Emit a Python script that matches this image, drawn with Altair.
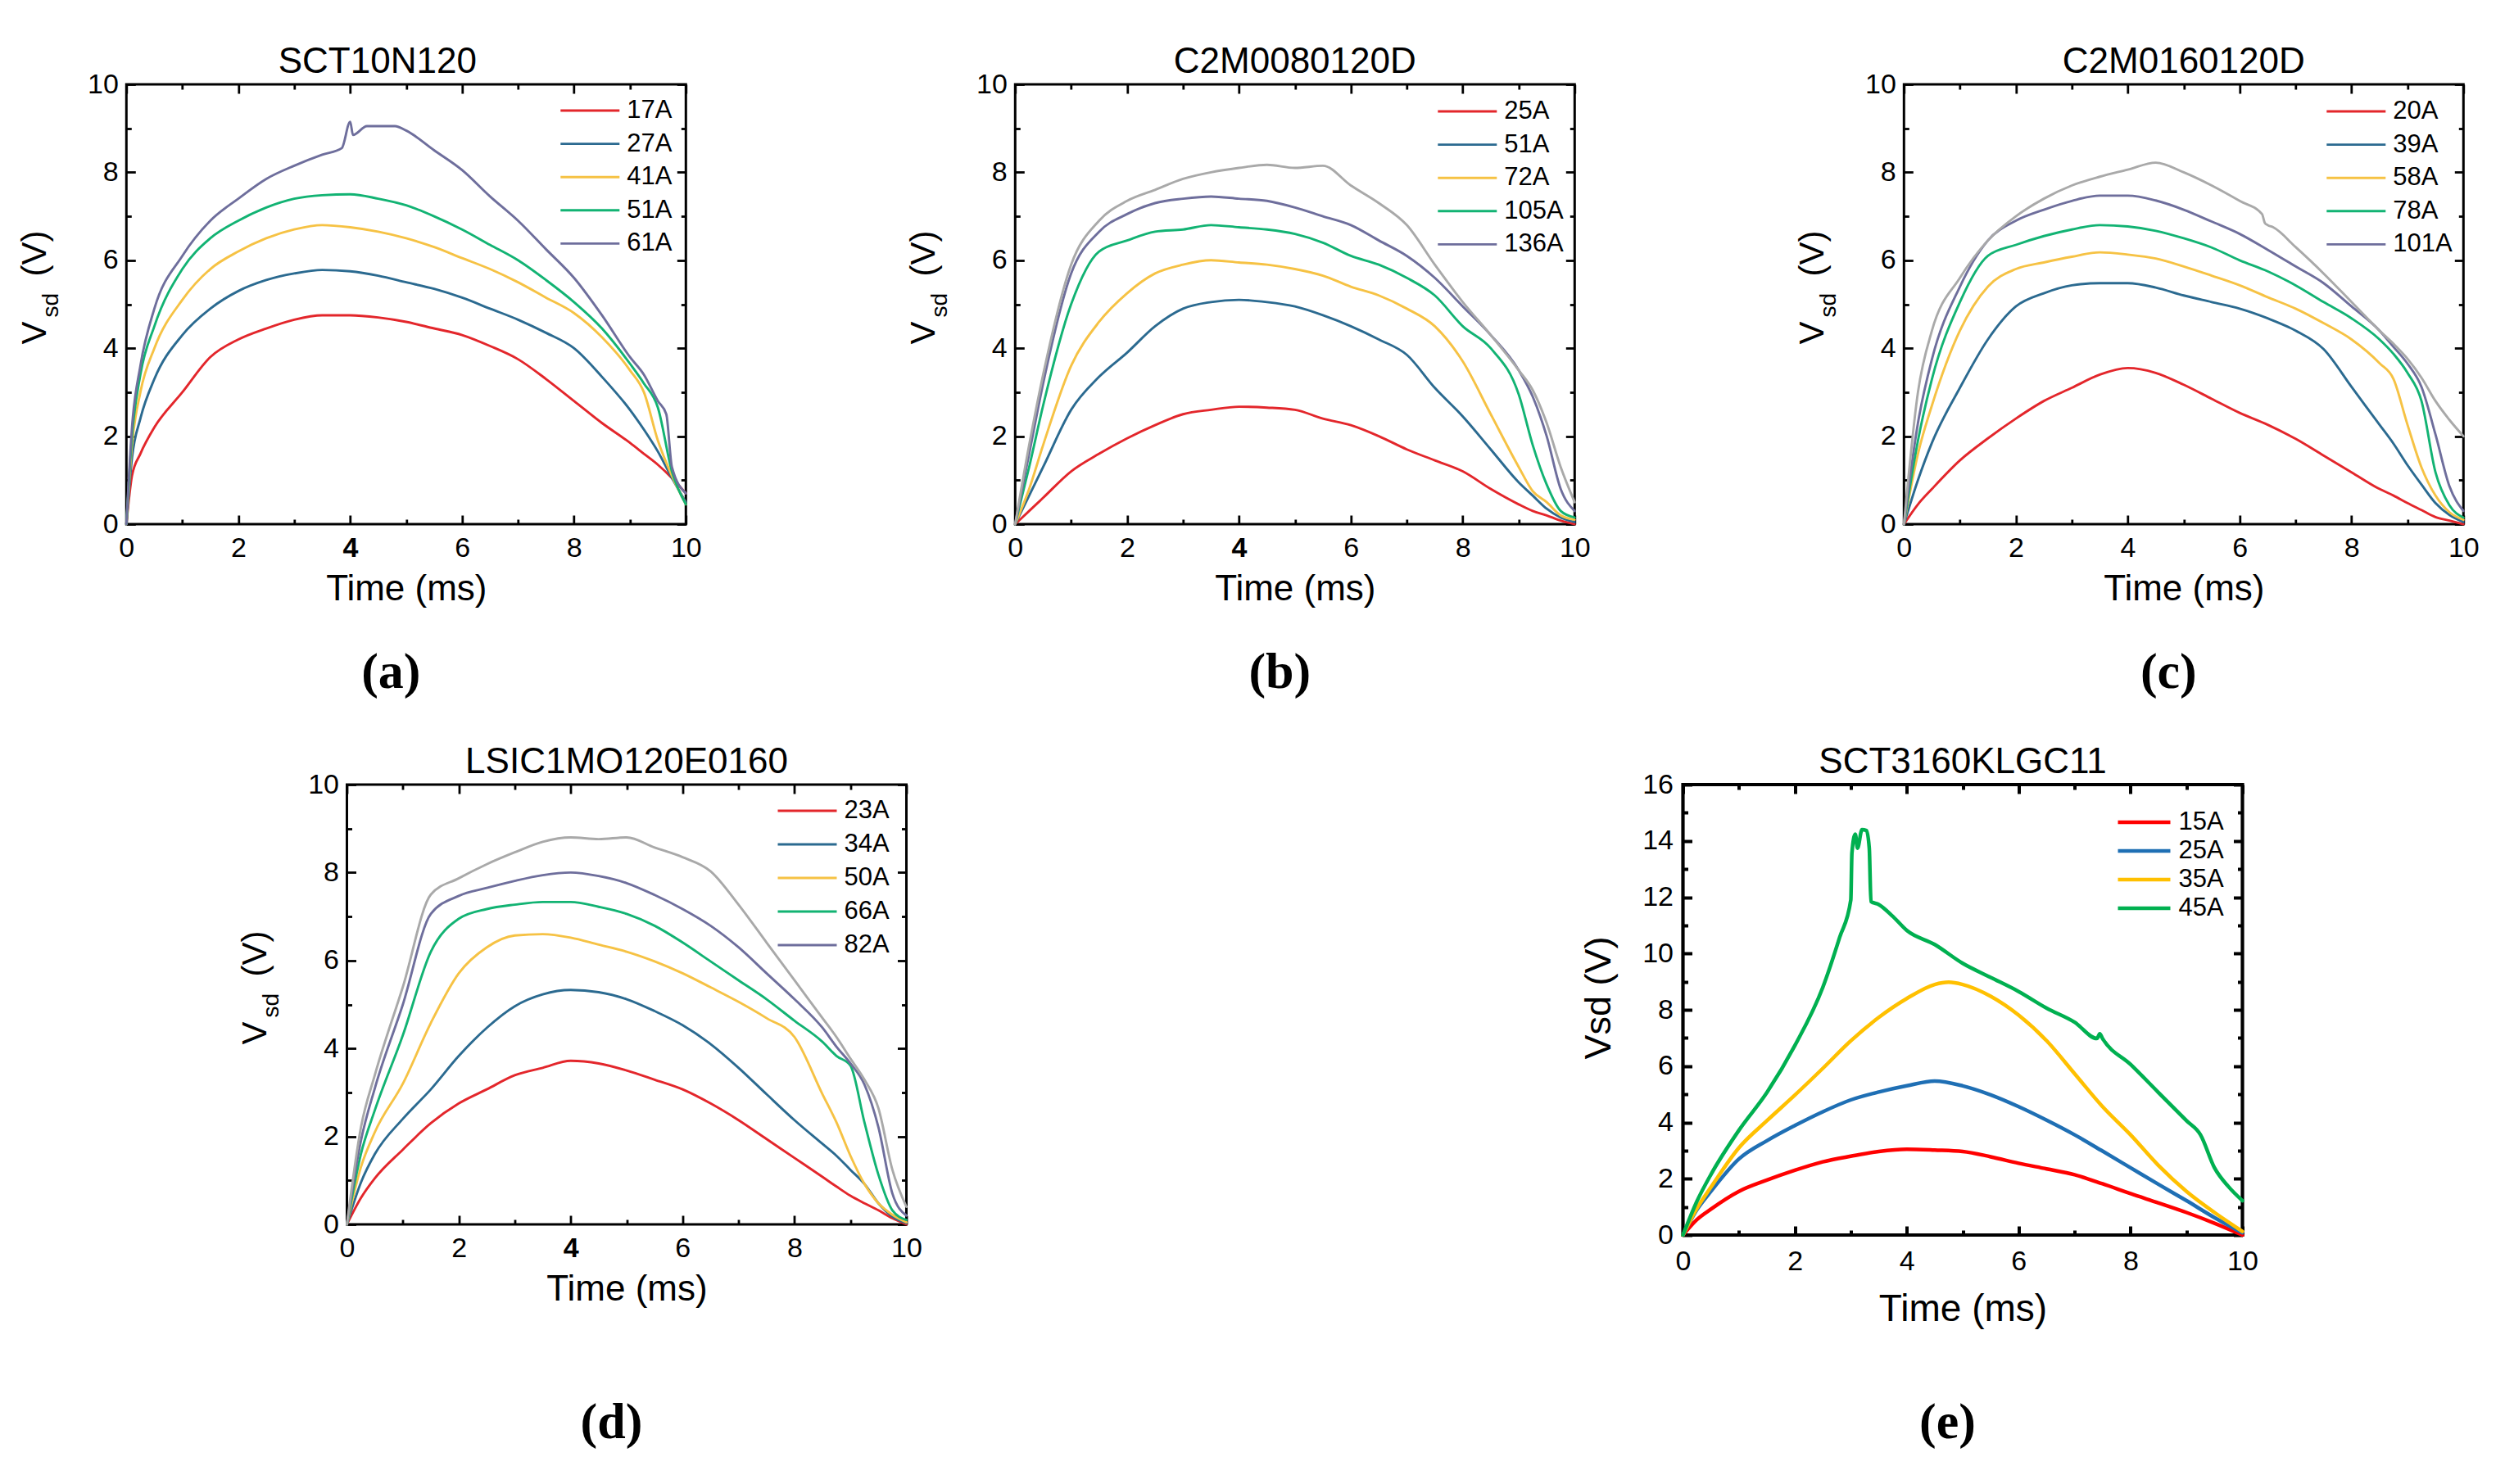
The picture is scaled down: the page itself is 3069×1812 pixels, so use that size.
import altair as alt
import pandas as pd

FONT = "Liberation Sans"
SERIF = "Liberation Serif"

# ---------------- (a) SCT10N120 ----------------
A_T = [0, 0.1, 0.25, 0.5, 1, 1.5, 2, 2.5, 3, 3.5, 4, 4.5, 5, 5.5, 6, 6.5, 7, 7.5, 8, 8.5, 9, 9.25, 9.5, 9.75, 10]
A_17 = [0, 1.1, 1.6, 2.2, 3.0, 3.8, 4.2, 4.45, 4.65, 4.75, 4.75, 4.7, 4.6, 4.45, 4.3, 4.05, 3.75, 3.3, 2.8, 2.3, 1.85, 1.6, 1.35, 1.05, 0.7]
A_27 = [0, 1.5, 2.4, 3.3, 4.3, 4.9, 5.3, 5.55, 5.7, 5.78, 5.75, 5.65, 5.5, 5.35, 5.15, 4.9, 4.65, 4.35, 4.0, 3.35, 2.6, 2.15, 1.65, 1.05, 0.5]
A_41 = [0, 1.8, 3.0, 4.0, 5.1, 5.8, 6.2, 6.5, 6.7, 6.8, 6.75, 6.65, 6.5, 6.3, 6.05, 5.8, 5.5, 5.15, 4.8, 4.25, 3.5, 3.0, 1.9, 1.1, 0.45]
A_51 = [0, 2.0, 3.4, 4.5, 5.8, 6.5, 6.9, 7.2, 7.4, 7.48, 7.5, 7.4, 7.25, 7.0, 6.7, 6.35, 6.0, 5.55, 5.05, 4.45, 3.65, 3.2, 2.65, 1.2, 0.45]
A_61 = [0, 2.2, 3.6, 4.9, 6.1, 6.9, 7.4, 7.85, 8.15, 8.4, 9.15, 9.05, 8.95, 8.5, 8.05, 7.45, 6.9, 6.25, 5.6, 4.75, 3.8, 3.4, 2.8, 1.3, 0.7]
A_61_XT = [3.85, 4.05, 4.3, 4.8, 9.65]
A_61_XV = [8.55, 8.85, 9.05, 9.05, 2.5]
A_LABELS = ["17A", "27A", "41A", "51A", "61A"]

# ---------------- (b) C2M0080120D ----------------
B_T = [0, 0.25, 0.5, 1, 1.5, 2, 2.5, 3, 3.5, 4, 4.5, 5, 5.5, 6, 6.5, 7, 7.5, 8, 8.5, 9, 9.25, 9.5, 9.75, 10]
B_25 = [0, 0.3, 0.6, 1.2, 1.6, 1.95, 2.25, 2.5, 2.6, 2.67, 2.65, 2.6, 2.4, 2.25, 2.0, 1.7, 1.45, 1.2, 0.8, 0.45, 0.3, 0.2, 0.08, 0]
B_51 = [0, 0.65, 1.3, 2.6, 3.35, 3.9, 4.5, 4.9, 5.05, 5.1, 5.05, 4.95, 4.75, 4.5, 4.2, 3.85, 3.1, 2.45, 1.7, 0.95, 0.65, 0.35, 0.15, 0.05]
B_72 = [0, 0.8, 1.8, 3.6, 4.6, 5.25, 5.7, 5.9, 6.0, 5.95, 5.9, 5.8, 5.65, 5.4, 5.2, 4.9, 4.5, 3.7, 2.5, 1.3, 0.75, 0.5, 0.2, 0.1]
B_105 = [0, 1.3, 2.7, 5.0, 6.2, 6.45, 6.65, 6.7, 6.8, 6.75, 6.7, 6.6, 6.4, 6.1, 5.9, 5.6, 5.2, 4.5, 4.0, 2.95, 1.8, 0.9, 0.3, 0.15]
B_136 = [0, 1.6, 3.2, 5.7, 6.65, 7.05, 7.3, 7.4, 7.45, 7.4, 7.35, 7.2, 7.0, 6.8, 6.45, 6.1, 5.6, 4.95, 4.3, 3.5, 2.9, 2.0, 0.8, 0.3]
B_GRAY = [0, 1.8, 3.4, 5.9, 6.9, 7.35, 7.6, 7.85, 8.0, 8.1, 8.17, 8.1, 8.15, 7.7, 7.3, 6.8, 5.9, 5.05, 4.3, 3.5, 3.05, 2.3, 1.3, 0.5]
B_LABELS = ["25A", "51A", "72A", "105A", "136A"]

# ---------------- (c) C2M0160120D ----------------
C_T = [0, 0.25, 0.5, 1, 1.5, 2, 2.5, 3, 3.5, 4, 4.5, 5, 5.5, 6, 6.5, 7, 7.5, 8, 8.5, 8.75, 9, 9.25, 9.5, 9.75, 10]
C_20 = [0, 0.45, 0.8, 1.45, 1.95, 2.4, 2.8, 3.1, 3.4, 3.55, 3.44, 3.17, 2.85, 2.53, 2.26, 1.94, 1.56, 1.18, 0.8, 0.65, 0.48, 0.32, 0.16, 0.08, 0]
C_39 = [0, 1.0, 1.85, 3.1, 4.2, 4.95, 5.25, 5.43, 5.48, 5.48, 5.38, 5.2, 5.05, 4.9, 4.68, 4.4, 3.98, 3.12, 2.26, 1.83, 1.34, 0.9, 0.48, 0.21, 0.05]
C_58 = [0, 1.6, 2.7, 4.4, 5.4, 5.8, 5.95, 6.08, 6.18, 6.13, 6.04, 5.86, 5.65, 5.43, 5.16, 4.9, 4.57, 4.2, 3.66, 3.3, 2.26, 1.29, 0.65, 0.27, 0.1]
C_78 = [0, 1.9, 3.3, 5.05, 6.1, 6.35, 6.55, 6.7, 6.8, 6.77, 6.67, 6.5, 6.29, 6.0, 5.75, 5.43, 5.05, 4.68, 4.2, 3.87, 3.44, 2.8, 1.18, 0.43, 0.15]
C_101 = [0, 2.3, 3.75, 5.4, 6.45, 6.9, 7.15, 7.35, 7.47, 7.47, 7.36, 7.15, 6.88, 6.6, 6.24, 5.86, 5.48, 4.95, 4.4, 4.03, 3.65, 3.12, 2.04, 0.86, 0.3]
C_GRAY = [0, 3.0, 4.4, 5.6, 6.45, 7.0, 7.4, 7.7, 7.9, 8.06, 8.22, 8.0, 7.7, 7.35, 6.8, 6.3, 5.7, 5.05, 4.4, 4.1, 3.76, 3.33, 2.8, 2.37, 2.0]
C_GRAY_XT = [6.4, 6.45, 6.6]
C_GRAY_XV = [7.05, 6.85, 6.75]
C_LABELS = ["20A", "39A", "58A", "78A", "101A"]

# ---------------- (d) LSIC1MO120E0160 ----------------
D_T = [0, 0.25, 0.5, 1, 1.5, 2, 2.5, 3, 3.5, 4, 4.5, 5, 5.5, 6, 6.5, 7, 7.5, 8, 8.5, 8.75, 9, 9.25, 9.5, 9.75, 10]
D_23 = [0, 0.6, 1.05, 1.7, 2.3, 2.75, 3.07, 3.39, 3.56, 3.72, 3.66, 3.5, 3.29, 3.07, 2.75, 2.37, 1.94, 1.51, 1.08, 0.86, 0.65, 0.48, 0.32, 0.14, 0]
D_34 = [0, 0.95, 1.6, 2.4, 3.07, 3.83, 4.47, 4.96, 5.23, 5.33, 5.28, 5.12, 4.85, 4.53, 4.1, 3.56, 2.96, 2.37, 1.83, 1.56, 1.24, 0.92, 0.48, 0.18, 0.03]
D_50 = [0, 1.3, 2.1, 3.2, 4.58, 5.71, 6.3, 6.57, 6.6, 6.52, 6.36, 6.2, 5.98, 5.71, 5.39, 5.06, 4.69, 4.26, 2.96, 2.32, 1.56, 0.92, 0.48, 0.22, 0.05]
D_66 = [0, 1.6, 2.6, 4.3, 6.2, 6.95, 7.17, 7.27, 7.33, 7.33, 7.22, 7.06, 6.79, 6.41, 5.98, 5.55, 5.12, 4.63, 4.15, 3.83, 3.61, 2.32, 1.13, 0.32, 0.1]
D_82 = [0, 1.9, 3.1, 5.0, 7.06, 7.47, 7.65, 7.81, 7.94, 8.0, 7.92, 7.76, 7.49, 7.17, 6.79, 6.3, 5.71, 5.12, 4.47, 4.04, 3.66, 3.18, 2.21, 0.7, 0.2]
D_GRAY = [0, 2.2, 3.4, 5.4, 7.5, 7.87, 8.19, 8.46, 8.7, 8.8, 8.76, 8.8, 8.57, 8.35, 8.03, 7.27, 6.41, 5.55, 4.69, 4.26, 3.77, 3.29, 2.64, 1.24, 0.4]
D_LABELS = ["23A", "34A", "50A", "66A", "82A"]

# ---------------- (e) SCT3160KLGC11 ----------------
E_T = [0, 0.25, 0.5, 1, 1.5, 2, 2.5, 3, 3.5, 4, 4.5, 5, 5.5, 6, 6.5, 7, 7.5, 8, 8.5, 9, 9.5, 10]
E_15 = [0, 0.55, 0.92, 1.55, 1.95, 2.3, 2.6, 2.8, 2.97, 3.05, 3.02, 2.97, 2.78, 2.55, 2.35, 2.14, 1.82, 1.47, 1.14, 0.8, 0.42, 0]
E_25 = [0, 0.9, 1.55, 2.7, 3.35, 3.89, 4.38, 4.8, 5.08, 5.3, 5.47, 5.3, 4.98, 4.56, 4.08, 3.56, 2.98, 2.39, 1.8, 1.22, 0.62, 0.08]
E_35 = [0, 0.95, 1.7, 3.1, 4.06, 4.97, 5.92, 6.9, 7.73, 8.4, 8.9, 8.9, 8.48, 7.81, 6.9, 5.73, 4.56, 3.56, 2.47, 1.55, 0.8, 0.13]
E_35_XT = [4.75]
E_35_XV = [8.98]
E_45 = [0, 1.2, 2.15, 3.72, 5.06, 6.73, 8.8, 11.9, 11.74, 10.82, 10.32, 9.65, 9.15, 8.65, 8.06, 7.56, 6.98, 6.06, 5.06, 4.06, 2.39, 1.22]
E_45_XT = [2.8, 3.02, 3.08, 3.12, 3.2, 3.28, 3.33, 3.36, 3.75, 7.4, 7.45, 9.25, 9.75]
E_45_XV = [10.57, 13.57, 14.24, 13.74, 14.4, 14.37, 13.74, 11.85, 11.32, 6.98, 7.15, 3.56, 1.72]
E_LABELS = ["15A", "25A", "35A", "45A"]

COLORS_AD = ["#E3262B", "#2B6A90", "#F6C244", "#12B373", "#6E6E9C", "#A9A9A9"]
COLORS_E = ["#FF0000", "#1F6FB4", "#FFC000", "#00B050"]

X_MAJOR = [0, 2, 4, 6, 8, 10]
X_MINOR = [1, 3, 5, 7, 9]
MAJ = 11
MIN = 6
LEG_FONT = 31
LINE_SYMBOL = "M-3,0L3,0"

DUMMY = pd.DataFrame({"t": [0.0], "v": [0.0]})


def make_df(T, series):
    rows = []
    for label, vals, xt, xv in series:
        pts = sorted(list(zip(T, vals)) + list(zip(xt, xv)))
        for t, v in pts:
            rows.append({"t": t, "v": v, "s": label})
    return pd.DataFrame(rows)


def panel(cfg):
    W, H = 683, cfg["h"]
    ymax = cfg["ymax"]
    xs = alt.Scale(domain=[0, 10], nice=False, zero=False)
    ys = alt.Scale(domain=[0, ymax], nice=False, zero=False)
    y_major = list(range(0, ymax + 1, 2))
    y_minor = list(range(1, ymax, 2))
    tw = cfg["tw"]

    def tick_axis(orient, vals, size):
        return alt.Axis(orient=orient, values=vals, tickSize=size, offset=-size,
                        tickWidth=tw, tickColor="black", domain=False, grid=False,
                        labels=False, title=None)

    def lab_axis(orient, vals, pad, weight=None):
        kw = dict(orient=orient, values=vals, tickSize=MAJ, offset=-MAJ, tickWidth=tw,
                  tickColor="black", domain=False, grid=False, labels=True,
                  labelFont=FONT, labelFontSize=34, labelColor="black",
                  labelPadding=pad, labelFlush=False, labelOverlap=False,
                  format="d", title=None)
        if weight is not None:
            kw["labelFontWeight"] = weight
        return alt.Axis(**kw)

    def title_axis(orient, text, font, size, weight, tx, ty, angle, align, baseline):
        return alt.Axis(orient=orient, ticks=False, labels=False, domain=False, grid=False,
                        title=text, titleFont=font, titleFontSize=size,
                        titleFontWeight=weight, titleColor="black", titleX=tx, titleY=ty,
                        titleAngle=angle, titleAlign=align, titleBaseline=baseline)

    def dummy(xax, yax):
        return alt.Chart(DUMMY).mark_point(opacity=0, size=1).encode(
            x=alt.X("t:Q", scale=xs, axis=xax),
            y=alt.Y("v:Q", scale=ys, axis=yax),
        )

    df = make_df(cfg["T"], cfg["series"])
    dom = [s[0] for s in cfg["series"]]
    weight4 = None
    if cfg["bold4"]:
        weight4 = {"condition": {"test": "datum.value === 4", "value": "bold"}, "value": "normal"}

    # legend geometry: a horizontal line symbol of length L
    L = cfg["sym"]
    half = LEG_FONT / 2.0
    leg = alt.Legend(values=cfg["labels"], orient="none",
                     legendX=cfg["sx"] - half + L / 2.0,
                     legendY=cfg["cy"] - half,
                     title=None, symbolType=LINE_SYMBOL, symbolSize=(L / 3.0) ** 2,
                     symbolStrokeWidth=cfg["lw"],
                     labelFont=FONT, labelFontSize=LEG_FONT, labelColor="black",
                     labelOffset=L / 2.0 + cfg["gap"] - half,
                     rowPadding=cfg["sp"] - LEG_FONT - 1, padding=0)

    lines = alt.Chart(df).mark_line(strokeWidth=cfg["lw"], interpolate="monotone",
                                    strokeJoin="round", strokeCap="round").encode(
        x=alt.X("t:Q", scale=xs, axis=lab_axis("bottom", X_MAJOR, cfg["xlp"], weight4)),
        y=alt.Y("v:Q", scale=ys, axis=lab_axis("left", y_major, cfg["ylp"])),
        color=alt.Color("s:N", scale=alt.Scale(domain=dom, range=cfg["colors"][:len(dom)]),
                        legend=leg),
    )

    layers = [
        lines,
        dummy(tick_axis("bottom", X_MINOR, MIN), tick_axis("left", y_minor, MIN)),
        dummy(tick_axis("top", X_MAJOR, MAJ), tick_axis("right", y_major, MAJ)),
        dummy(tick_axis("top", X_MINOR, MIN), tick_axis("right", y_minor, MIN)),
    ]
    pieces = cfg["ytitle"]
    xt_axes = [
        title_axis("bottom", "Time (ms)", FONT, cfg["xts"], "normal", W / 2, cfg["xty"], 0, "center", "middle"),
        title_axis("bottom", cfg["letter"], SERIF, 62, "bold", W / 2 - 19, cfg["lty"], 0, "center", "middle"),
    ]
    n = max(len(pieces), len(xt_axes))
    for i in range(n):
        xa = xt_axes[i] if i < len(xt_axes) else None
        if i < len(pieces):
            text, size, tx, ty, align = pieces[i]
            ya = title_axis("left", text, FONT, size, "normal", tx, ty, 270, align, "alphabetic")
        else:
            ya = None
        layers.append(dummy(xa, ya))

    return alt.layer(*layers).resolve_axis(x="independent", y="independent").properties(
        width=W, height=H,
        title=alt.Title(cfg["name"], font=FONT, fontSize=44, fontWeight="normal",
                        color="black", anchor="middle", frame="group",
                        offset=cfg["toff"], dx=cfg["tdx"]),
        view=alt.ViewBackground(stroke="black", strokeWidth=cfg["fw"]),
    )


YT_AD = [("V", 42, -99, 317, "left"), ("sd", 28, -84, 284, "left"), ("(V)", 42, -99, 234, "left")]
YT_E = [("Vsd (V)", 45, -89, 260, "center")]

common_ad = dict(h=537, ymax=10, tw=2.8, lw=2.9, fw=3, xlp=12, ylp=10, sym=72, gap=9,
                 sp=40.6, colors=COLORS_AD, ytitle=YT_AD, xts=44, xty=79, lty=180,
                 toff=-12)

cfg_a = dict(common_ad, name="SCT10N120", letter="(a)", T=A_T, labels=A_LABELS,
             series=[("17A", A_17, [], []), ("27A", A_27, [], []), ("41A", A_41, [], []),
                     ("51A", A_51, [], []), ("61A", A_61, A_61_XT, A_61_XV)],
             bold4=True, sx=530, cy=32, tdx=-35)
cfg_b = dict(common_ad, name="C2M0080120D", letter="(b)", T=B_T, labels=B_LABELS,
             series=[("25A", B_25, [], []), ("51A", B_51, [], []), ("72A", B_72, [], []),
                     ("105A", B_105, [], []), ("136A", B_136, [], []), ("ref", B_GRAY, [], [])],
             bold4=True, sx=516, cy=33, tdx=0)
cfg_c = dict(common_ad, name="C2M0160120D", letter="(c)", T=C_T, labels=C_LABELS,
             series=[("20A", C_20, [], []), ("39A", C_39, [], []), ("58A", C_58, [], []),
                     ("78A", C_78, [], []), ("101A", C_101, [], []),
                     ("ref", C_GRAY, C_GRAY_XT, C_GRAY_XV)],
             bold4=False, sx=516, cy=33, tdx=0)
cfg_d = dict(common_ad, name="LSIC1MO120E0160", letter="(d)", T=D_T, labels=D_LABELS,
             series=[("23A", D_23, [], []), ("34A", D_34, [], []), ("50A", D_50, [], []),
                     ("66A", D_66, [], []), ("82A", D_82, [], []), ("ref", D_GRAY, [], [])],
             bold4=True, sx=526, cy=32, sp=41, tdx=0, lty=241)
cfg_e = dict(name="SCT3160KLGC11", letter="(e)", T=E_T, labels=E_LABELS,
             series=[("15A", E_15, [], []), ("25A", E_25, [], []),
                     ("35A", E_35, E_35_XT, E_35_XV), ("45A", E_45, E_45_XT, E_45_XV)],
             h=550, ymax=16, tw=4, lw=4.5, fw=4.2, xlp=15, ylp=12, sym=64, gap=10,
             sp=35, colors=COLORS_E, ytitle=YT_E, xts=46, xty=90, lty=228, toff=-12,
             bold4=False, sx=531, cy=46, tdx=0)

top = alt.hconcat(panel(cfg_a), panel(cfg_b), panel(cfg_c), spacing=246).resolve_scale(
    color="independent").resolve_legend(color="independent")
bottom = alt.hconcat(panel(cfg_d), panel(cfg_e), spacing=799).resolve_scale(
    color="independent").resolve_legend(color="independent")

chart = alt.vconcat(top, bottom, spacing=53, center=True).resolve_scale(
    color="independent").resolve_legend(color="independent").properties(
    padding={"left": 11, "top": 44, "right": 5, "bottom": 5},
    background="white",
).configure(font=FONT)

chart.save("out.html", embed_options={"renderer": "svg", "actions": False})
